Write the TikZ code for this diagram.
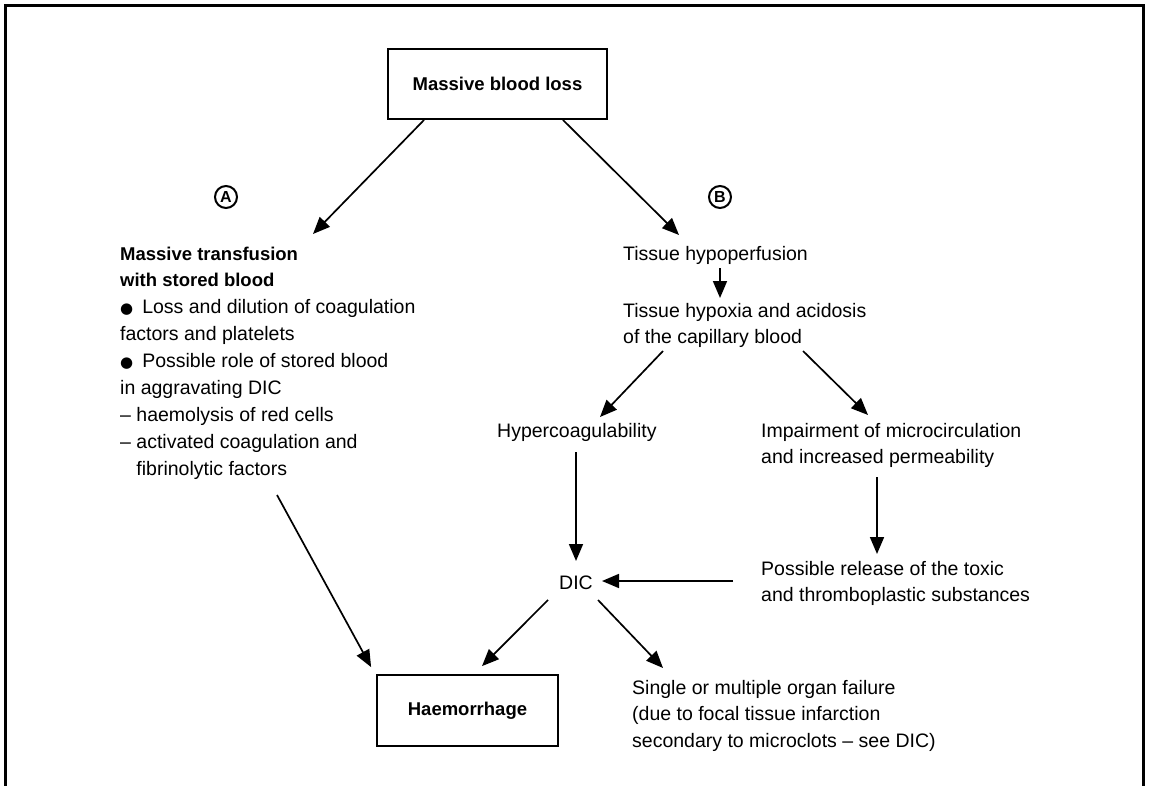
\documentclass[tikz,border=0pt]{standalone}
\usepackage{fontspec}
\setmainfont{Liberation Sans}
\newfontfamily\symfont{DejaVu Sans}
\usetikzlibrary{arrows.meta,calc}
\newcommand\blt{{\symfont\fontsize{15}{15}\selectfont ●}\hspace{9pt}}
\tikzset{
  txt/.style={inner sep=0pt, align=left, font=\fontsize{19.5}{26.9}\selectfont},
  boxed/.style={draw, line width=1.8pt, inner sep=0pt, font=\bfseries\fontsize{18.5}{22}\selectfont},
  conn/.style={line width=1.7pt, -{Triangle[length=17pt,width=14pt]}},
  circ/.style={circle, draw, line width=2pt, minimum size=22pt, inner sep=0pt,
               font=\bfseries\fontsize{16}{16}\selectfont},
  frame/.style={line width=3pt},
}
\begin{document}
\begin{tikzpicture}[x=1pt, y=-1pt]
\useasboundingbox (0,0) rectangle (1150,786);
% open frame round the chart
\draw[frame] (5,786) -- (5,6) -- (1143,6) -- (1143,786);

% boxes
\node[boxed, minimum width=219pt, minimum height=70pt] (mbl) at (497.5,84) {Massive blood loss};
\node[boxed, minimum width=181pt, minimum height=71pt] (hae) at (467.5,710.5) {Haemorrhage};

% branch markers
\node[circ] (ca) at (226,197) {A};
\node[circ] (cb) at (720,197) {B};

% multi-line texts are placed by the baseline of their last line (26.9pt apart)
% branch A
\node[txt, anchor=base west] (trans) at (120,475.2)
  {\textbf{\fontsize{18.5}{26.9}\selectfont Massive transfusion}\\
   \textbf{\fontsize{18.5}{26.9}\selectfont with stored blood}\\
   \blt Loss and dilution of coagulation\\
   factors and platelets\\
   \blt Possible role of stored blood\\
   in aggravating DIC\\
   – haemolysis of red cells\\
   – activated coagulation and\\
   \hphantom{– }fibrinolytic factors};

% branch B
\node[txt, anchor=base west] (thp) at (623,260) {Tissue hypoperfusion};
\node[txt, anchor=base west] (thx) at (623,343.9) {Tissue hypoxia and acidosis\\of the capillary blood};
\node[txt, anchor=base west] (hyp) at (497,437) {Hypercoagulability};
\node[txt, anchor=base west] (imp) at (761,463.9) {Impairment of microcirculation\\and increased permeability};
\node[txt, anchor=base west] (rel) at (761,601.9) {Possible release of the toxic\\and thromboplastic substances};
\node[txt, anchor=base] (dic) at (576,589) {DIC};
\node[txt, anchor=base west] (org) at (632,747.8)
  {Single or multiple organ failure\\
   (due to focal tissue infarction\\
   secondary to microclots – see DIC)};

% connectors
\draw[conn] ($(mbl.south west)+(37,0)$) -- ($(trans.base west)+(193,-241.2)$);
\draw[conn] ($(mbl.south east)+(-45,0)$) -- ($(thp.base west)+(56,-25)$);
\draw[conn] ($(thp.base west)+(97,8)$) -- ($(thx.base west)+(97,-45.9)$);
\draw[conn] ($(thx.base west)+(40,7.1)$) -- ($(hyp.base west)+(103,-20)$);
\draw[conn] ($(thx.base west)+(180,7.1)$) -- ($(imp.base west)+(107,-48.9)$);
\draw[conn] ($(hyp.base west)+(79,15)$) -- ($(dic.base)+(0,-28)$);
\draw[conn] ($(imp.base west)+(116,13.1)$) -- ($(rel.base west)+(116,-47.9)$);
\draw[conn] ($(rel.base west)+(-28,-20.9)$) -- ($(dic.base)+(26,-8)$);
\draw[conn] ($(dic.base)+(-28,11)$) -- ($(hae.north)+(14.5,-8)$);
\draw[conn] ($(dic.base)+(22,11)$) -- ($(org.base west)+(31,-79.8)$);
\draw[conn] ($(trans.base west)+(157,19.8)$) -- ($(hae.north west)+(-5,-7)$);
\end{tikzpicture}
\end{document}
